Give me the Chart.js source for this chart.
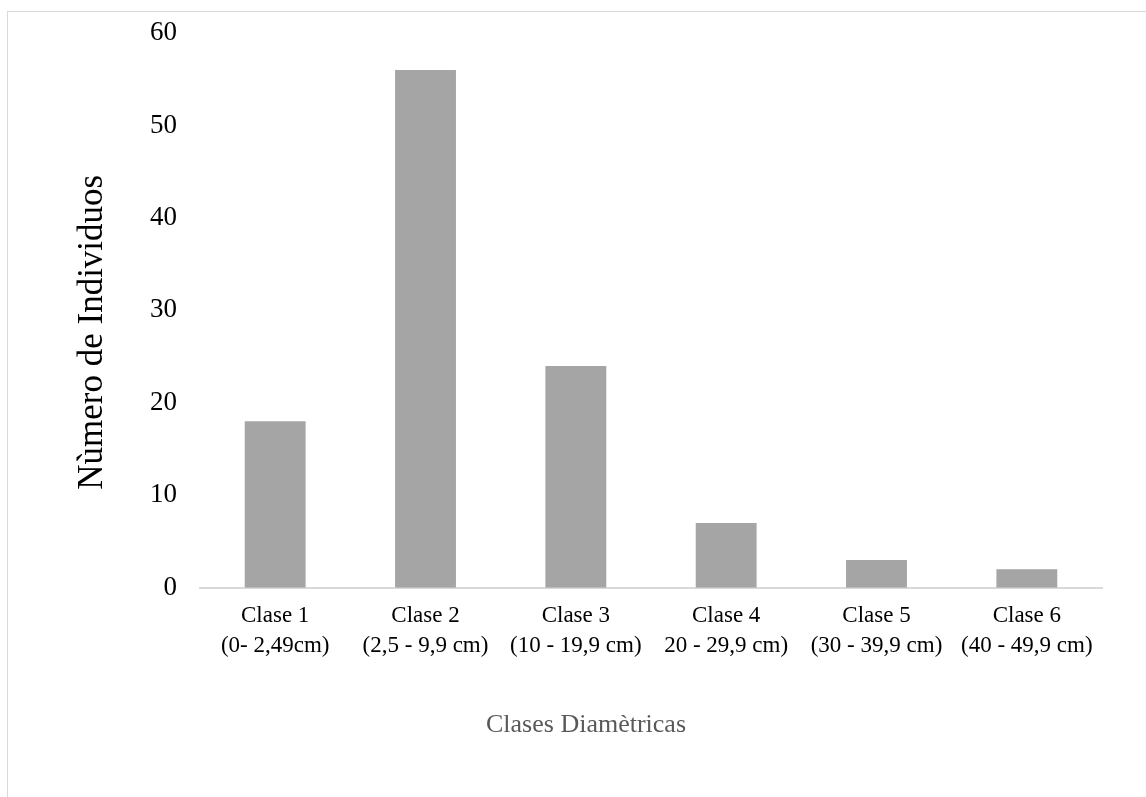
<!DOCTYPE html>
<html lang="es">
<head>
    <meta charset="UTF-8">
    <title>Clases Diamètricas</title>
    <script src="https://cdn.jsdelivr.net/npm/chart.js"></script>
    <style>
        html, body { margin: 0; padding: 0; background: #fff; }
        .wrap { position: relative; width: 1146px; height: 797px; }
        .frame {
            position: absolute; left: 7px; top: 11px; right: 0; bottom: 0;
            border-left: 1px solid #d9d9d9; border-top: 1px solid #d9d9d9;
        }
        canvas { position: absolute; left: 0; top: 0; }
    </style>
</head>
<body>
<div class="wrap">
    <div class="frame"></div>
    <canvas id="chart" width="1146" height="797"></canvas>
</div>
<script>
    // datos
    const categories = [
        ['Clase 1', '(0- 2,49cm)'],
        ['Clase 2', '(2,5 - 9,9 cm)'],
        ['Clase 3', '(10 - 19,9 cm)'],
        ['Clase 4', '20 - 29,9 cm)'],
        ['Clase 5', '(30 - 39,9 cm)'],
        ['Clase 6', '(40 - 49,9 cm)']
    ];
    const individuos = [18, 56, 24, 7, 3, 2];
    const yTicks = [0, 10, 20, 30, 40, 50, 60];

    const serif = "'Liberation Serif', 'Times New Roman', serif";

    new Chart(document.getElementById('chart'), {
        type: 'bar',
        data: {
            labels: categories,
            datasets: [{
                data: individuos,
                backgroundColor: '#a5a5a5',
                borderWidth: 0,
                categoryPercentage: 1,
                barPercentage: 0.405
            }]
        },
        options: {
            responsive: false,
            animation: false,
            layout: { padding: { left: 70, top: 33, right: 44, bottom: 0 } },
            plugins: {
                legend: { display: false },
                tooltip: { enabled: false },
                // titulo del eje x, centrado en todo el grafico como en Excel
                title: {
                    display: true,
                    position: 'bottom',
                    text: 'Clases Diamètricas',
                    color: '#595959',
                    font: { family: serif, size: 26, weight: 'normal', lineHeight: 1.2 },
                    padding: { top: 0, bottom: 56 }
                }
            },
            scales: {
                x: {
                    grid: { display: false, drawTicks: false },
                    border: { display: true, color: '#d9d9d9', width: 2 },
                    ticks: {
                        color: '#000',
                        font: { family: serif, size: 23, lineHeight: 1.3 },
                        padding: 13,
                        maxRotation: 0,
                        autoSkip: false
                    },
                    afterFit: (scale) => { scale.height = 122; }
                },
                y: {
                    min: 0,
                    max: 60,
                    afterBuildTicks: (scale) => { scale.ticks = yTicks.map(v => ({ value: v })); },
                    // marcas invisibles: solo separan las etiquetas del eje
                    grid: { display: false, drawTicks: true, tickLength: 20 },
                    border: { display: false },
                    ticks: {
                        color: '#000',
                        font: { family: serif, size: 27 },
                        padding: 3
                    },
                    title: {
                        display: true,
                        text: 'Nùmero de Individuos\u00a0\u00a0\u00a0\u00a0\u00a0',
                        color: '#000',
                        font: { family: serif, size: 35 },
                        padding: { top: 2, bottom: 0 }
                    },
                    afterFit: (scale) => { scale.width = 130; }
                }
            }
        }
    });
</script>
</body>
</html>
